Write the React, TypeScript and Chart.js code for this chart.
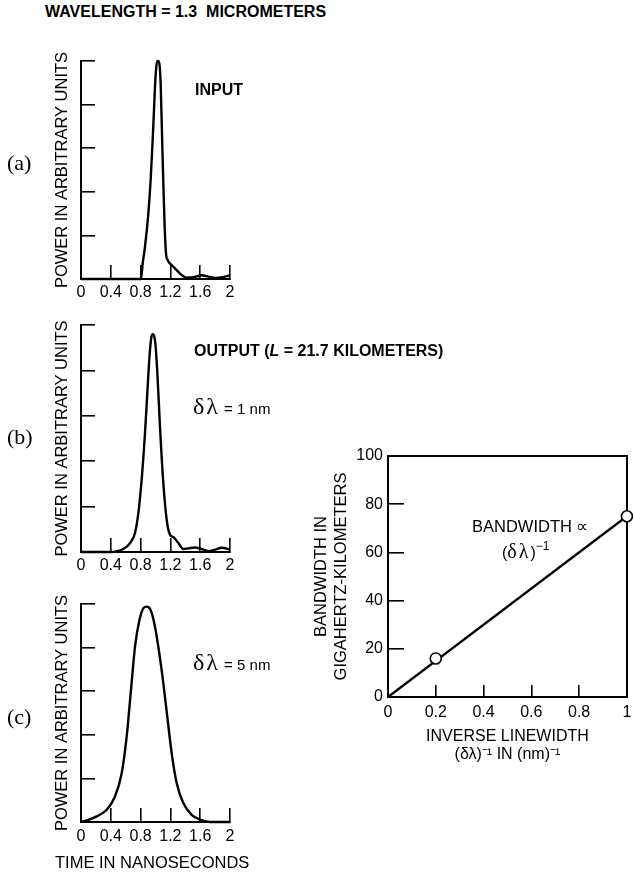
import React, { useEffect, useRef } from "react";
import { Chart, registerables } from "chart.js";

Chart.register(...registerables);

const SANS = "'Liberation Sans', Arial, Helvetica, sans-serif";
const SERIF = "'Liberation Serif', 'Times New Roman', serif";

Chart.defaults.font.family = SANS;
Chart.defaults.color = "#000";

// ---------- data ----------
const TIME_TICKS = [0, 0.4, 0.8, 1.2, 1.6, 2];
const POWER_TICKS = [0, 0.2, 0.4, 0.6, 0.8, 1];

// (a) input pulse
const INPUT_T = [0, 0.4, 0.8, 0.805, 0.828, 0.859, 0.904, 0.935, 0.962, 0.98, 0.998, 1.016, 1.034, 1.051, 1.069, 1.087, 1.105, 1.123, 1.141, 1.163, 1.217, 1.284, 1.351, 1.418, 1.508, 1.62, 1.709, 1.799, 1.911, 2.0];
const INPUT_P = [0, 0, 0, 0.0, 0.072, 0.148, 0.301, 0.454, 0.638, 0.775, 0.913, 0.989, 1.0, 0.989, 0.898, 0.668, 0.439, 0.24, 0.118, 0.087, 0.064, 0.041, 0.018, 0.006, 0.008, 0.017, 0.011, 0.005, 0.009, 0.017];

// (b) output, linewidth 1 nm
const OUT1_T = [0, 0.39, 0.568, 0.658, 0.725, 0.77, 0.814, 0.859, 0.895, 0.926, 0.953, 0.971, 0.998, 1.025, 1.06, 1.105, 1.15, 1.195, 1.239, 1.306, 1.373, 1.44, 1.53, 1.62, 1.709, 1.799, 1.888, 1.978, 2.0];
const OUT1_P = [0, 0, 0.013, 0.039, 0.084, 0.172, 0.318, 0.524, 0.729, 0.89, 0.956, 0.959, 0.919, 0.788, 0.553, 0.304, 0.142, 0.076, 0.066, 0.04, 0.013, 0.016, 0.02, 0.013, 0.004, 0.01, 0.019, 0.013, 0.01];

// (c) output, linewidth 5 nm
const OUT5_T = [0, 0.076, 0.21, 0.345, 0.456, 0.546, 0.613, 0.671, 0.725, 0.783, 0.836, 0.882, 0.935, 0.993, 1.051, 1.105, 1.163, 1.217, 1.284, 1.373, 1.485, 1.597, 1.732, 2.0];
const OUT5_P = [0, 0.007, 0.026, 0.056, 0.117, 0.224, 0.392, 0.606, 0.804, 0.924, 0.98, 0.988, 0.972, 0.896, 0.774, 0.637, 0.469, 0.316, 0.179, 0.087, 0.033, 0.011, 0, 0];

// bandwidth vs inverse linewidth
const INV_LW_TICKS = [0, 0.2, 0.4, 0.6, 0.8, 1];
const BW_TICKS = [0, 20, 40, 60, 80, 100];
const MEAS_X = [0.2, 1.0];
const MEAS_Y = [16, 75];
const FIT_X = [0, 1];
const FIT_Y = [0, 75];

// ---------- pulse chart ----------
type PulseProps = {
  top: number;
  height: number;
  areaTop: number;
  areaBottom: number;
  labelCenter: number;
  times: number[];
  powers: number[];
};

function PulseChart(props: PulseProps) {
  const ref = useRef<HTMLCanvasElement>(null);
  useEffect(() => {
    const { top, height, areaTop, areaBottom, labelCenter, times, powers } = props;
    const W = 260;
    const AREA_L = 81;
    const AREA_R = 230;
    const TL = 14;
    const fontSize = 16;
    const lh = fontSize * 1.2;
    const padTop = areaTop - top;
    const xHeight = height - (areaBottom - top);
    const tickPad = labelCenter - (areaBottom - TL) - lh / 2;
    const chart = new Chart(ref.current as HTMLCanvasElement, {
      type: "line",
      data: {
        datasets: [
          {
            data: times.map((t, i) => ({ x: t, y: powers[i] })),
            borderColor: "#000",
            borderWidth: 2.4,
            pointRadius: 0,
            cubicInterpolationMode: "monotone",
            fill: false,
            clip: false as any,
          },
        ],
      },
      options: {
        animation: false,
        responsive: false,
        devicePixelRatio: 1,
        events: [],
        layout: { padding: { left: 0, top: padTop, right: W - AREA_R, bottom: 0 } },
        plugins: { legend: { display: false }, tooltip: { enabled: false } },
        scales: {
          x: {
            type: "linear",
            position: "bottom",
            min: 0,
            max: 2,
            afterBuildTicks: (s: any) => {
              s.ticks = TIME_TICKS.map((v) => ({ value: v }));
            },
            afterFit: (s: any) => {
              s.height = xHeight;
              s.paddingLeft = 0;
              s.paddingRight = 0;
            },
            ticks: {
              color: "#000",
              font: { size: fontSize },
              padding: tickPad,
              maxRotation: 0,
              autoSkip: false,
              callback: (v: any) => String(v),
            },
            grid: { drawOnChartArea: false, drawTicks: true, tickLength: -TL, color: "#000", lineWidth: 1.6 },
            border: { display: true, color: "#000", width: 2 },
          },
          y: {
            type: "linear",
            position: "left",
            min: 0,
            max: 1,
            afterBuildTicks: (s: any) => {
              s.ticks = POWER_TICKS.map((v) => ({ value: v }));
            },
            afterFit: (s: any) => {
              s.width = AREA_L;
              s.paddingTop = 0;
              s.paddingBottom = 0;
            },
            ticks: { display: false },
            grid: { drawOnChartArea: false, drawTicks: true, tickLength: -TL, color: "#000", lineWidth: 1.6 },
            border: { display: true, color: "#000", width: 2 },
            title: {
              display: true,
              text: "POWER IN ARBITRARY UNITS",
              color: "#000",
              font: { size: 16.5, lineHeight: 1.2 },
              padding: { top: 62 - 9.9, bottom: 0 },
            },
          },
        },
      } as any,
    });
    return () => chart.destroy();
  }, []);
  return (
    <canvas
      ref={ref}
      width={260}
      height={props.height}
      style={{ position: "absolute", left: 0, top: props.top, width: 260, height: props.height }}
    />
  );
}

// ---------- bandwidth chart ----------
function BandwidthChart() {
  const ref = useRef<HTMLCanvasElement>(null);
  const LEFT = 300;
  const TOP = 440;
  const W = 334;
  const H = 335;
  useEffect(() => {
    const areaL = 388 - LEFT;
    const areaT = 456 - TOP;
    const areaR = 631 - LEFT;
    const areaB = 697 - TOP;
    const fontSize = 16;
    const lh = fontSize * 1.2;
    const TLX = 12;
    const TLY = 16;
    const xLabelCenter = 712.3 - TOP;
    const titleLH = 17.6;
    const titleFirstCenter = 736.7 - TOP;
    const chart = new Chart(ref.current as HTMLCanvasElement, {
      type: "line",
      data: {
        datasets: [
          {
            data: MEAS_X.map((x, i) => ({ x, y: MEAS_Y[i] })),
            showLine: false,
            pointRadius: 5.5,
            pointBackgroundColor: "#fff",
            pointBorderColor: "#000",
            pointBorderWidth: 1.6,
            clip: false as any,
          },
          {
            data: FIT_X.map((x, i) => ({ x, y: FIT_Y[i] })),
            borderColor: "#000",
            borderWidth: 2.2,
            pointRadius: 0,
            fill: false,
            clip: false as any,
          },
        ],
      },
      options: {
        animation: false,
        responsive: false,
        devicePixelRatio: 1,
        events: [],
        layout: { padding: { left: 0, top: areaT, right: W - areaR, bottom: 0 } },
        plugins: { legend: { display: false }, tooltip: { enabled: false } },
        scales: {
          x: {
            type: "linear",
            position: "bottom",
            min: 0,
            max: 1,
            afterBuildTicks: (s: any) => {
              s.ticks = INV_LW_TICKS.map((v) => ({ value: v }));
            },
            afterFit: (s: any) => {
              s.height = H - areaB;
              s.paddingLeft = 0;
              s.paddingRight = 0;
            },
            ticks: {
              color: "#000",
              font: { size: fontSize },
              padding: xLabelCenter - (areaB - TLX) - lh / 2,
              maxRotation: 0,
              autoSkip: false,
              callback: (v: any) => String(v),
            },
            grid: { drawOnChartArea: false, drawTicks: true, tickLength: -TLX, color: "#000", lineWidth: 1.6 },
            border: { display: true, color: "#000", width: 2 },
            title: {
              display: true,
              text: ["INVERSE LINEWIDTH", "(δλ)⁻¹ IN (nm)⁻¹"],
              color: "#000",
              font: { size: fontSize, lineHeight: titleLH / fontSize },
              padding: { top: 0, bottom: H - titleLH / 2 - titleLH - titleFirstCenter },
            },
          },
          y: {
            type: "linear",
            position: "left",
            min: 0,
            max: 100,
            afterBuildTicks: (s: any) => {
              s.ticks = BW_TICKS.map((v) => ({ value: v }));
            },
            afterFit: (s: any) => {
              s.width = areaL;
              s.paddingTop = 0;
              s.paddingBottom = 0;
            },
            ticks: {
              color: "#000",
              font: { size: fontSize },
              padding: TLY + 5,
              callback: (v: any) => String(v),
            },
            grid: { drawOnChartArea: false, drawTicks: true, tickLength: -TLY, color: "#000", lineWidth: 1.6 },
            border: { display: true, color: "#000", width: 2 },
            title: {
              display: true,
              text: ["BANDWIDTH IN", "GIGAHERTZ-KILOMETERS"],
              color: "#000",
              font: { size: 16.5, lineHeight: 20 / 16.5 },
              padding: { top: 21 - 10, bottom: 0 },
            },
          },
          x2: {
            type: "linear",
            position: "top",
            display: true,
            ticks: { display: false },
            grid: { drawOnChartArea: false, drawTicks: false },
            border: { display: true, color: "#000", width: 2 },
            afterFit: (s: any) => {
              s.height = 0;
              s.paddingLeft = 0;
              s.paddingRight = 0;
            },
          },
          y2: {
            type: "linear",
            position: "right",
            display: true,
            ticks: { display: false },
            grid: { drawOnChartArea: false, drawTicks: false },
            border: { display: true, color: "#000", width: 2 },
            afterFit: (s: any) => {
              s.width = 0;
              s.paddingTop = 0;
              s.paddingBottom = 0;
            },
          },
        },
      } as any,
    });
    return () => chart.destroy();
  }, []);
  return (
    <canvas
      ref={ref}
      width={W}
      height={H}
      style={{ position: "absolute", left: LEFT, top: TOP, width: W, height: H }}
    />
  );
}

// ---------- text helper ----------
function Txt({ x, cy, size, children, bold, serif, lh = 24 }: any) {
  return (
    <div
      style={{
        position: "absolute",
        left: x,
        top: cy - lh / 2,
        height: lh,
        lineHeight: lh + "px",
        fontSize: size,
        fontWeight: bold ? "bold" : "normal",
        fontFamily: serif ? SERIF : SANS,
        whiteSpace: "pre",
        color: "#000",
      }}
    >
      {children}
    </div>
  );
}

const dl = (size: number) => (
  <span style={{ fontFamily: SERIF, fontSize: size, letterSpacing: 2 }}>δλ</span>
);

export default function App() {
  return (
    <div
      style={{
        position: "absolute",
        left: 0,
        top: 0,
        width: 634,
        height: 872,
        background: "#fff",
        overflow: "hidden",
        fontFamily: SANS,
      }}
    >
      <Txt x={45} cy={12} size={16} bold>
        {"WAVELENGTH = 1.3  MICROMETERS"}
      </Txt>

      <PulseChart top={40} height={270} areaTop={61} areaBottom={279} labelCenter={293} times={INPUT_T} powers={INPUT_P} />
      <PulseChart top={310} height={280} areaTop={325} areaBottom={552} labelCenter={565.5} times={OUT1_T} powers={OUT1_P} />
      <PulseChart top={590} height={282} areaTop={604} areaBottom={822} labelCenter={836.5} times={OUT5_T} powers={OUT5_P} />
      <BandwidthChart />

      <Txt x={55} cy={861.7} size={16.5}>TIME IN NANOSECONDS</Txt>

      <Txt x={7} cy={163} size={22} serif>(a)</Txt>
      <Txt x={7} cy={437} size={22} serif>(b)</Txt>
      <Txt x={7} cy={717} size={22} serif>(c)</Txt>

      <Txt x={195} cy={90} size={16} bold>INPUT</Txt>
      <Txt x={194} cy={351} size={16} bold>
        OUTPUT (<i>L</i> = 21.7 KILOMETERS)
      </Txt>
      <Txt x={193} cy={406} size={15} lh={30}>
        {dl(24)} = 1 nm
      </Txt>
      <Txt x={193} cy={662} size={15} lh={30}>
        {dl(24)} = 5 nm
      </Txt>

      <Txt x={472} cy={526} size={16.5}>BANDWIDTH ∝</Txt>
      <Txt x={502} cy={551} size={16} lh={26}>
        ({dl(20)})<span style={{ fontSize: 12, verticalAlign: "top", lineHeight: "16px" }}>−1</span>
      </Txt>
    </div>
  );
}
